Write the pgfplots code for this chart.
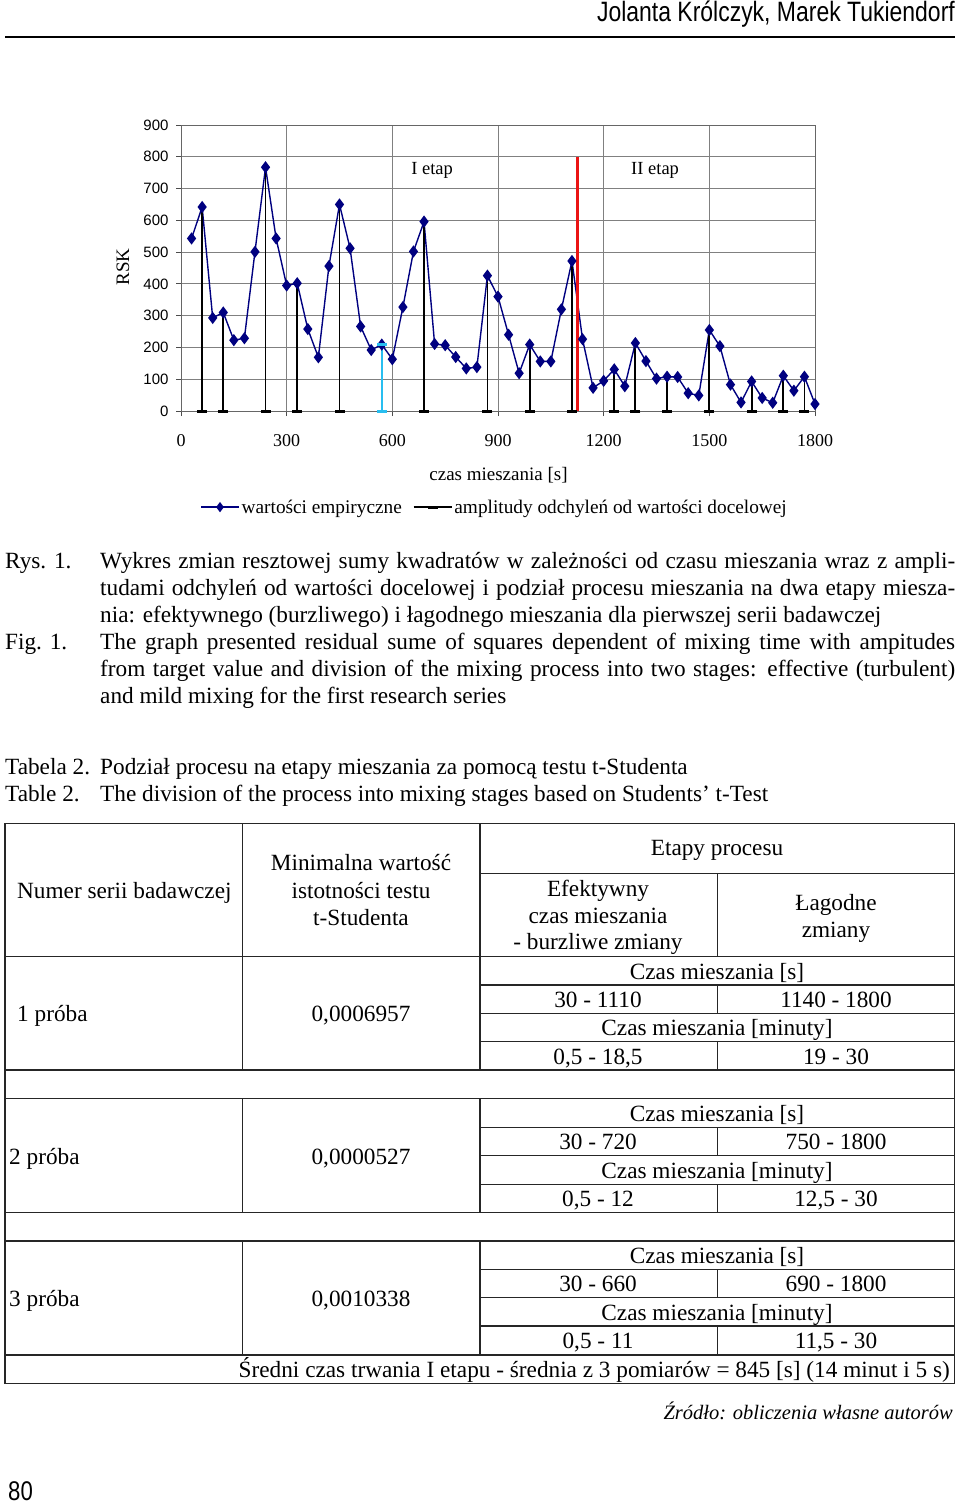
\documentclass[border=0pt]{standalone}
\usepackage{fontspec}
\setmainfont{Liberation Serif}
\newfontfamily\arial{Liberation Sans}
\newfontfamily\arialn{Liberation Sans}[FakeStretch=0.82]
\usepackage{pgfplots}
\pgfplotsset{compat=1.18}
\definecolor{navy}{RGB}{0,0,128}
\definecolor{redline}{RGB}{235,20,20}
\definecolor{cyanline}{RGB}{40,190,240}
\begin{document}
\begin{tikzpicture}[x=1pt,y=1pt]
\path[use as bounding box, fill=white] (0,0) rectangle (960,-1504);
% header
\node[anchor=base east, inner sep=0] at (955,-22) {\arialn\fontsize{28}{28}\selectfont Jolanta Królczyk, Marek Tukiendorf};
\draw[line width=1.5pt] (5,-37) -- (955,-37);

\begin{axis}[
  at={(181pt,-411pt)}, anchor=south west,
  scale only axis, width=634pt, height=286pt,
  xmin=0, xmax=1800, ymin=0, ymax=900,
  xtick={0,300,...,1800}, ytick={0,100,...,900},
  grid=major, grid style={draw=black!50, line width=0.8pt},
  axis line style={draw=black!60, line width=0.8pt},
  tick style={draw=black!70, line width=0.8pt},
  tick align=outside, major tick length=5pt,
  xtick pos=bottom, ytick pos=left,
  clip=false,
  scaled ticks=false,
  /pgf/number format/assume math mode=true,
  /pgf/number format/set thousands separator={},
  yticklabel style={font=\arial\fontsize{15}{15}\selectfont, xshift=-4pt},
  xticklabel style={font=\fontsize{18}{18}\selectfont, yshift=-15pt},
  xlabel={czas mieszania [s]},
  xlabel style={font=\fontsize{19}{19}\selectfont, at={(axis description cs:0.5008,-0.224)}, anchor=center},
  ylabel={RSK},
  ylabel style={font=\fontsize{19}{19}\selectfont, at={(axis description cs:-0.0915,0.503)}, anchor=center, rotate=0},
  legend style={at={(axis description cs:0.4945,-0.336)}, anchor=center, draw=none, fill=none,
    font=\fontsize{19.3}{19.3}\selectfont, legend columns=2, inner sep=0pt,
    /tikz/every even column/.append style={column sep=9pt}},
  legend cell align=left,
]
\addplot[color=navy, line width=1.4pt, mark=diamond*, mark size=5pt,
  mark options={fill=navy, draw=navy, solid},
  legend image code/.code={\draw[mark repeat=2,mark phase=2,mark size=4pt] plot coordinates {(0pt,0pt) (19pt,0pt) (38pt,0pt)};}]
table {
x y
30 543
60 642
90 293
120 310
150 223
180 229
210 501
240 767
270 543
300 395
330 402
360 258
390 169
420 456
450 650
480 512
510 266
540 192
570 209
600 163
630 327
660 502
690 596
720 211
750 207
780 170
810 134
840 138
870 426
900 360
930 240
960 119
990 209
1020 156
1050 156
1080 320
1110 472
1140 226
1170 73
1200 95
1230 131
1260 78
1290 214
1320 157
1350 102
1380 108
1410 107
1440 56
1470 49
1500 255
1530 204
1560 83
1590 27
1620 93
1650 41
1680 26
1710 111
1740 64
1770 108
1800 22
};
\addlegendentry{wartości empiryczne}
\addplot[black, line width=1.8pt, ycomb, mark=none,
  legend image code/.code={\draw[black, line width=1.5pt] (0pt,0pt) -- (38pt,0pt); \draw[black, line width=3pt] (14pt,0pt) -- (24pt,0pt);}]
table {
x y
60 642
120 310
240 767
330 402
450 650
690 596
870 426
990 209
1110 472
1230 131
1290 214
1380 108
1500 255
1620 93
1710 111
1770 108
};
\addlegendentry{amplitudy odchyleń od wartości docelowej}
\addplot[only marks, mark=-, mark size=5pt, mark options={line width=3pt, draw=black}, forget plot]
table {
x y
60 0
120 0
240 0
330 0
450 0
690 0
870 0
990 0
1110 0
1230 0
1290 0
1380 0
1500 0
1620 0
1710 0
1770 0
};
\addplot[cyanline, line width=1.8pt, forget plot] coordinates {(570,0) (570,209)};
\addplot[only marks, mark=-, mark size=5pt, mark options={line width=3pt, draw=cyanline}, forget plot] coordinates {(570,0) (570,209)};
\addplot[redline, line width=2.8pt, forget plot] coordinates {(1125,0) (1125,800)};
\node[font=\fontsize{18.5}{18.5}\selectfont] at (axis cs:713,758) {I etap};
\node[font=\fontsize{18.5}{18.5}\selectfont] at (axis cs:1346,758) {II etap};
\end{axis}

% captions
\begin{scope}[every node/.style={inner sep=0, font=\fontsize{23.25}{27}\selectfont}]
\node[anchor=base west] at (5,-568) {Rys. 1.};
\node[anchor=base west] at (5,-649) {Fig. 1.};
\node[anchor=base west] at (100,-568) {\makebox[855pt][s]{Wykres zmian resztowej sumy kwadratów w zależności od czasu mieszania wraz z ampli-}};
\node[anchor=base west] at (100,-595) {\makebox[855pt][s]{tudami odchyleń od wartości docelowej i podział procesu mieszania na dwa etapy miesza-}};
\node[anchor=base west] at (100,-622) {nia: efektywnego (burzliwego) i łagodnego mieszania dla pierwszej serii badawczej};
\node[anchor=base west] at (100,-649) {\makebox[855pt][s]{The graph presented residual sume of squares dependent of mixing time with ampitudes}};
\node[anchor=base west] at (100,-676) {\makebox[855pt][s]{from target value and division of the mixing process into two stages: effective (turbulent)}};
\node[anchor=base west] at (100,-703) {and mild mixing for the first research series};
\node[anchor=base west] at (5,-774) {Tabela 2.};
\node[anchor=base west] at (100,-774) {Podział procesu na etapy mieszania za pomocą testu t-Studenta};
\node[anchor=base west] at (5,-801) {Table 2.};
\node[anchor=base west] at (100,-801) {The division of the process into mixing stages based on Students’ t-Test};

% table text
\node[anchor=base west] at (17,-898) {Numer serii badawczej};
\node[anchor=base] at (361,-870) {Minimalna wartość};
\node[anchor=base] at (361,-898) {istotności testu};
\node[anchor=base] at (361,-925) {t-Studenta};
\node[anchor=base] at (717,-855) {Etapy procesu};
\node[anchor=base] at (598,-896) {Efektywny};
\node[anchor=base] at (598,-923) {czas mieszania};
\node[anchor=base] at (598,-949) {- burzliwe zmiany};
\node[anchor=base] at (836,-910) {Łagodne};
\node[anchor=base] at (836,-937) {zmiany};
% row 1
\node[anchor=base west] at (17,-1021) {1 próba};
\node[anchor=base] at (361,-1021) {0,0006957};
\node[anchor=base] at (717,-979) {Czas mieszania [s]};
\node[anchor=base] at (598,-1007) {30 - 1110};
\node[anchor=base] at (836,-1007) {1140 - 1800};
\node[anchor=base] at (717,-1035) {Czas mieszania [minuty]};
\node[anchor=base] at (598,-1064) {0,5 - 18,5};
\node[anchor=base] at (836,-1064) {19 - 30};
% row 2
\node[anchor=base west] at (9,-1164) {2 próba};
\node[anchor=base] at (361,-1164) {0,0000527};
\node[anchor=base] at (717,-1121) {Czas mieszania [s]};
\node[anchor=base] at (598,-1149) {30 - 720};
\node[anchor=base] at (836,-1149) {750 - 1800};
\node[anchor=base] at (717,-1178) {Czas mieszania [minuty]};
\node[anchor=base] at (598,-1206) {0,5 - 12};
\node[anchor=base] at (836,-1206) {12,5 - 30};
% row 3
\node[anchor=base west] at (9,-1306) {3 próba};
\node[anchor=base] at (361,-1306) {0,0010338};
\node[anchor=base] at (717,-1263) {Czas mieszania [s]};
\node[anchor=base] at (598,-1291) {30 - 660};
\node[anchor=base] at (836,-1291) {690 - 1800};
\node[anchor=base] at (717,-1320) {Czas mieszania [minuty]};
\node[anchor=base] at (598,-1348) {0,5 - 11};
\node[anchor=base] at (836,-1348) {11,5 - 30};
\node[anchor=base east] at (950,-1377) {Średni czas trwania I etapu - średnia z 3 pomiarów = 845 [s] (14 minut i 5 s)};
\end{scope}

% table lines
\begin{scope}[line width=1.4pt, black!85]
\draw (5,-823.5) rectangle (954.5,-1383.5);
\foreach \y in {956.7,1070,1098.3,1212.3,1241,1355} \draw (5,-\y) -- (954.5,-\y);
\foreach \y in {873.3,985,1013.3,1041.7,1127.3,1155.7,1184.3,1269.3,1297.7,1326} \draw (480,-\y) -- (954.5,-\y);
\foreach \x in {242.7,480} {
  \draw (\x,-823.5) -- (\x,-1070);
  \draw (\x,-1098.3) -- (\x,-1212.3);
  \draw (\x,-1241) -- (\x,-1355);
}
\draw (717.3,-873.3) -- (717.3,-956.7);
\draw (717.3,-985) -- (717.3,-1013.3);
\draw (717.3,-1041.7) -- (717.3,-1070);
\draw (717.3,-1127.3) -- (717.3,-1155.7);
\draw (717.3,-1184.3) -- (717.3,-1212.3);
\draw (717.3,-1269.3) -- (717.3,-1297.7);
\draw (717.3,-1326) -- (717.3,-1355);
\end{scope}

\node[anchor=base east, inner sep=0] at (953,-1419) {\fontsize{20.5}{20.5}\selectfont\itshape Źródło: obliczenia własne autorów};
\node[anchor=base west, inner sep=0] at (8,-1500) {\arialn\fontsize{27}{27}\selectfont 80};
\end{tikzpicture}
\end{document}
